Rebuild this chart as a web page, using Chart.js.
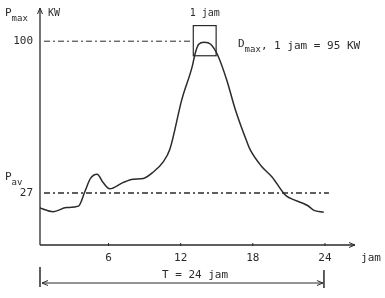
<!DOCTYPE html>
<html>
<head>
<meta charset="utf-8">
<script src="https://cdn.jsdelivr.net/npm/chart.js@4"></script>
<style>
  html, body { margin: 0; padding: 0; background: #fff; }
  #wrap { width: 385px; height: 298px; }
</style>
</head>
<body>
<div id="wrap"><canvas id="loadChart" width="385" height="298"></canvas></div>
<script>
// Daily load curve (hour of day -> kW)
const hours = [0.2, 1.4, 2.5, 3.5, 4.05, 4.5, 5.05, 5.55, 6.1, 7.2, 8.05, 8.9, 9.7, 10.55, 11.1,
    12.1, 12.97, 13.2, 13.5, 13.95, 14.5, 15.1, 15.85, 16.55, 17.55, 17.8, 18.7, 19.6, 20.7,
    21.1, 22.55, 23.05, 23.9];
const loadKW = [20, 18, 20, 20.7, 28, 34, 36, 32, 29, 32, 33.6, 34, 37, 42, 48,
    72, 88, 94, 98.5, 99.5, 98.5, 93, 81, 67, 51, 47.6, 40, 34.7, 26,
    24.5, 21, 18.8, 17.8];

const xTicks = [6, 12, 18, 24];
const pMax = 100;
const pAv = 27;
const periodHours = 24;
// the one-hour peak window marked on the curve
const peakWindow = [13.05, 14.95];
const peakBand = [93, 107.5];

const INK = '#2b2b2b';
const FONT = '"DejaVu Sans Mono", "Liberation Mono", monospace';

const arrow = (ctx, x, y, dir) => {
    // dir: 'up', 'right', 'left'
    ctx.beginPath();
    if (dir === 'up') {
        ctx.moveTo(x - 2.5, y + 6); ctx.lineTo(x, y); ctx.lineTo(x + 2.5, y + 6);
    } else if (dir === 'right') {
        ctx.moveTo(x - 6, y - 2.5); ctx.lineTo(x, y); ctx.lineTo(x - 6, y + 2.5);
    } else {
        ctx.moveTo(x + 6, y - 2.5); ctx.lineTo(x, y); ctx.lineTo(x + 6, y + 2.5);
    }
    ctx.stroke();
};

const subText = (ctx, main, sub, x, y, size) => {
    ctx.font = size + 'px ' + FONT;
    ctx.textAlign = 'left';
    ctx.fillText(main, x, y);
    const w = ctx.measureText(main).width;
    ctx.font = (size - 2) + 'px ' + FONT;
    ctx.fillText(sub, x + w, y + 5);
    return x + w + ctx.measureText(sub).width;
};

const figurePlugin = {
    id: 'figure',
    beforeDatasetsDraw(chart) {
        const { ctx, scales: { x, y }, chartArea } = chart;
        const x0 = chartArea.left;
        const yBase = chartArea.bottom;
        ctx.save();
        ctx.strokeStyle = INK;
        ctx.fillStyle = INK;
        ctx.lineWidth = 1.3;

        // axes
        ctx.beginPath();
        ctx.moveTo(x0, yBase);
        ctx.lineTo(x0, chartArea.top - 2);
        ctx.moveTo(x0, yBase);
        ctx.lineTo(chartArea.right, yBase);
        ctx.stroke();
        ctx.lineWidth = 1;
        arrow(ctx, x0, chartArea.top - 2, 'up');
        arrow(ctx, chartArea.right, yBase, 'right');

        // x ticks + labels
        ctx.font = '11px ' + FONT;
        ctx.textAlign = 'center';
        ctx.textBaseline = 'middle';
        xTicks.forEach(t => {
            const px = x.getPixelForValue(t);
            ctx.beginPath();
            ctx.moveTo(px, yBase - 2);
            ctx.lineTo(px, yBase + 1);
            ctx.stroke();
            ctx.fillText(String(t), px, yBase + 13);
        });
        ctx.fillText('jam', chartArea.right + 16, yBase + 13);

        // y labels
        ctx.textAlign = 'right';
        ctx.fillText(String(pMax), x0 - 7, y.getPixelForValue(pMax));
        ctx.fillText(String(pAv), x0 - 7, y.getPixelForValue(pAv));
        ctx.textBaseline = 'alphabetic';
        subText(ctx, 'P', 'max', 5, 16, 11);
        subText(ctx, 'P', 'av', 5, 180, 11);
        ctx.font = '10px ' + FONT;
        ctx.textAlign = 'left';
        ctx.fillText('KW', x0 + 8, 16);

        // Pmax and Pav reference lines
        ctx.setLineDash([6, 3, 2, 3]);
        ctx.lineWidth = 1;
        ctx.beginPath();
        ctx.moveTo(x0 + 4, y.getPixelForValue(pMax));
        ctx.lineTo(x.getPixelForValue(peakWindow[0]), y.getPixelForValue(pMax));
        ctx.stroke();
        ctx.lineWidth = 1.4;
        ctx.beginPath();
        ctx.moveTo(x0 + 4, y.getPixelForValue(pAv));
        ctx.lineTo(x.getPixelForValue(periodHours) + 4, y.getPixelForValue(pAv));
        ctx.stroke();
        ctx.setLineDash([]);

        // peak window box
        const bx1 = x.getPixelForValue(peakWindow[0]);
        const bx2 = x.getPixelForValue(peakWindow[1]);
        const by1 = y.getPixelForValue(peakBand[1]);
        const by2 = y.getPixelForValue(peakBand[0]);
        ctx.lineWidth = 1.2;
        ctx.strokeRect(bx1, by1, bx2 - bx1, by2 - by1);
        ctx.font = '10px ' + FONT;
        ctx.textAlign = 'center';
        ctx.fillText('1 jam', (bx1 + bx2) / 2, by1 - 10);

        // Dmax annotation
        ctx.textBaseline = 'alphabetic';
        const end = subText(ctx, 'D', 'max', 238, 47, 11);
        ctx.font = '11px ' + FONT;
        ctx.textAlign = 'left';
        ctx.fillText(', 1 jam = 95 KW', end, 49);

        // period dimension T = 24 jam
        const tx1 = x.getPixelForValue(x.min);
        const tx2 = x.getPixelForValue(periodHours) - 1;
        const ty = yBase + 38;
        ctx.lineWidth = 1.5;
        ctx.beginPath();
        ctx.moveTo(tx1, ty - 16); ctx.lineTo(tx1, ty + 4);
        ctx.moveTo(tx2, ty - 13); ctx.lineTo(tx2, ty + 5);
        ctx.stroke();
        ctx.lineWidth = 1;
        ctx.beginPath();
        ctx.moveTo(tx1 + 2, ty); ctx.lineTo(tx2 - 1, ty);
        ctx.stroke();
        arrow(ctx, tx1 + 2, ty, 'left');
        arrow(ctx, tx2 - 1, ty, 'right');
        ctx.font = '11px ' + FONT;
        ctx.textAlign = 'center';
        ctx.fillText('T = 24 jam', 195, ty - 5);

        ctx.restore();
    }
};

new Chart(document.getElementById('loadChart'), {
    type: 'scatter',
    data: {
        datasets: [{
            data: hours.map((h, i) => ({ x: h, y: loadKW[i] })),
            showLine: true,
            borderColor: INK,
            borderWidth: 1.5,
            pointRadius: 0,
            cubicInterpolationMode: 'monotone',
            fill: false
        }]
    },
    options: {
        responsive: false,
        animation: false,
        layout: { padding: { left: 40, right: 30, top: 10, bottom: 53 } },
        scales: {
            x: { type: 'linear', min: 0.3, max: 26.5, display: false },
            y: { type: 'linear', min: 2, max: 115, display: false }
        },
        plugins: {
            legend: { display: false },
            tooltip: { enabled: false }
        }
    },
    plugins: [figurePlugin]
});
</script>
</body>
</html>
